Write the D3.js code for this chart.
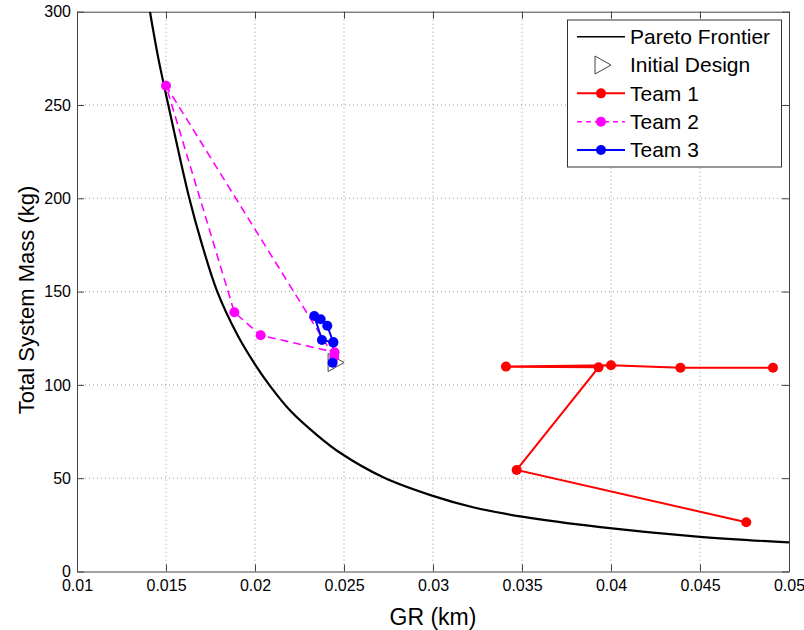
<!DOCTYPE html>
<html>
<head>
<meta charset="utf-8">
<script src="https://cdn.jsdelivr.net/npm/d3@7"></script>
<style>
  body { margin: 0; background: #fff; }
  svg { display: block; font-family: "Liberation Sans", Arial, Helvetica, sans-serif; }
</style>
</head>
<body>
<div id="chart"></div>
<script>
// Pareto frontier
const paretoGR = [0.0141, 0.01457, 0.01513, 0.01631, 0.0170, 0.01788, 0.0190, 0.0200, 0.02084, 0.0220, 0.0235, 0.0248, 0.0272, 0.0299, 0.0323, 0.0350, 0.0394, 0.0450, 0.0500];
const paretoMass = [300, 275, 250, 200, 176, 150, 127, 111, 99.5, 86, 73, 63.5, 50.5, 40.8, 34.3, 29.4, 23.8, 18.6, 15.6];

// Initial design point
const initialGR = [0.0245];
const initialMass = [112];

// Team paths
const team1GR = [0.0491, 0.0439, 0.0400, 0.0341, 0.0393, 0.0347, 0.0476];
const team1Mass = [109.2, 109.2, 110.5, 109.8, 109.4, 54.4, 26.4];

const team2GR = [0.02445, 0.0150, 0.01884, 0.02032, 0.02447];
const team2Mass = [115, 260.3, 138.9, 126.6, 117.5];

const team3GR = [0.02436, 0.0244, 0.02406, 0.02369, 0.02333, 0.02376, 0.0244];
const team3Mass = [111.9, 122.8, 131.7, 135.2, 136.9, 124.1, 122.8];

// Axis ticks
const xTicks = [0.01, 0.015, 0.02, 0.025, 0.03, 0.035, 0.04, 0.045, 0.05];
const yTicks = [0, 50, 100, 150, 200, 250, 300];

const legendNames = ["Pareto Frontier", "Initial Design", "Team 1", "Team 2", "Team 3"];

const width = 804, height = 630;
const plotLeft = 77, plotRight = 789, plotTop = 11.7, plotBottom = 571.5;

const svg = d3.select("#chart")
    .append("svg")
    .attr("width", width)
    .attr("height", height);

const x = d3.scaleLinear().domain([0.01, 0.05]).range([plotLeft, plotRight]);
const y = d3.scaleLinear().domain([0, 300]).range([plotBottom, plotTop]);

svg.append("defs").append("clipPath")
    .attr("id", "plot-clip")
    .append("rect")
    .attr("x", plotLeft).attr("y", plotTop)
    .attr("width", plotRight - plotLeft).attr("height", plotBottom - plotTop);

// Dotted grid
const grid = svg.append("g")
    .attr("stroke", "#9a9a9a")
    .attr("stroke-width", 1)
    .attr("stroke-dasharray", "1,3");

grid.selectAll("line.vx")
    .data(xTicks.slice(1, -1))
    .join("line")
    .attr("class", "vx")
    .attr("x1", d => x(d)).attr("x2", d => x(d))
    .attr("y1", plotTop).attr("y2", plotBottom);

grid.selectAll("line.hy")
    .data(yTicks.slice(1, -1))
    .join("line")
    .attr("class", "hy")
    .attr("x1", plotLeft).attr("x2", plotRight)
    .attr("y1", d => y(d)).attr("y2", d => y(d));

// Axes (ticks point inward, MATLAB style)
function styleAxis(g) {
    g.select(".domain").attr("stroke", "#444");
    g.selectAll(".tick line").attr("stroke", "#444");
    g.selectAll(".tick text").attr("fill", "#000").style("font-size", "16px");
}

svg.append("g")
    .attr("transform", `translate(0,${plotBottom})`)
    .call(d3.axisBottom(x).tickValues(xTicks).tickFormat(d => String(d))
        .tickSizeInner(-7).tickSizeOuter(0).tickPadding(8))
    .call(styleAxis);

svg.append("g")
    .attr("transform", `translate(0,${plotTop})`)
    .call(d3.axisTop(x).tickValues(xTicks).tickFormat("")
        .tickSizeInner(-7).tickSizeOuter(0))
    .call(styleAxis);

svg.append("g")
    .attr("transform", `translate(${plotLeft},0)`)
    .call(d3.axisLeft(y).tickValues(yTicks).tickFormat(d => String(d))
        .tickSizeInner(-7).tickSizeOuter(0).tickPadding(6))
    .call(styleAxis);

svg.append("g")
    .attr("transform", `translate(${plotRight},0)`)
    .call(d3.axisRight(y).tickValues(yTicks).tickFormat("")
        .tickSizeInner(-7).tickSizeOuter(0))
    .call(styleAxis);

// Axis titles
svg.append("text")
    .attr("x", (plotLeft + plotRight) / 2)
    .attr("y", 625)
    .attr("text-anchor", "middle")
    .style("font-size", "23px")
    .text("GR (km)");

svg.append("text")
    .attr("transform", `translate(34,300) rotate(-90)`)
    .attr("text-anchor", "middle")
    .style("font-size", "22px")
    .text("Total System Mass (kg)");

const plot = svg.append("g").attr("clip-path", "url(#plot-clip)");

const line = d3.line()
    .x(d => x(d[0]))
    .y(d => y(d[1]));

// Pareto frontier curve
const paretoData = paretoGR.map((g, i) => [g, paretoMass[i]]);
plot.append("path")
    .datum(paretoData)
    .attr("fill", "none")
    .attr("stroke", "#000")
    .attr("stroke-width", 2.2)
    .attr("d", line.curve(d3.curveCatmullRom.alpha(0.5)));

line.curve(d3.curveLinear);

const triangle = "M-7,-9L9,0L-7,9Z";

// Teams
const teams = [
    { gr: team1GR, mass: team1Mass, color: "#ff0000", dash: null },
    { gr: team2GR, mass: team2Mass, color: "#ff00ff", dash: "8,5" },
    { gr: team3GR, mass: team3Mass, color: "#0000ff", dash: null }
];

teams.forEach(t => {
    const pts = t.gr.map((g, i) => [g, t.mass[i]]);
    plot.append("path")
        .datum(pts)
        .attr("fill", "none")
        .attr("stroke", t.color)
        .attr("stroke-width", t.dash ? 1.6 : 2)
        .attr("stroke-dasharray", t.dash)
        .attr("d", line);
});

// Initial design marker
plot.selectAll("path.initial")
    .data(initialGR.map((g, i) => [g, initialMass[i]]))
    .join("path")
    .attr("class", "initial")
    .attr("d", triangle)
    .attr("transform", d => `translate(${x(d[0])},${y(d[1])})`)
    .attr("fill", "none")
    .attr("stroke", "#444")
    .attr("stroke-width", 1);

teams.forEach(t => {
    const pts = t.gr.map((g, i) => [g, t.mass[i]]);
    plot.append("g")
        .selectAll("circle")
        .data(pts)
        .join("circle")
        .attr("cx", d => x(d[0]))
        .attr("cy", d => y(d[1]))
        .attr("r", 5)
        .attr("fill", t.color);
});

// Legend
const legend = svg.append("g");
legend.append("rect")
    .attr("x", 567.5).attr("y", 20)
    .attr("width", 214).attr("height", 147)
    .attr("fill", "#fff")
    .attr("stroke", "#333")
    .attr("stroke-width", 1);

const rowY = d3.scalePoint().domain(legendNames).range([36.7, 150]);
const sampleX0 = 577, sampleX1 = 625, markX = 601;

legendNames.forEach((name, i) => {
    const ly = rowY(name);
    if (i === 0) {
        legend.append("line")
            .attr("x1", sampleX0).attr("x2", sampleX1)
            .attr("y1", ly).attr("y2", ly)
            .attr("stroke", "#000").attr("stroke-width", 1.5);
    } else if (i === 1) {
        legend.append("path")
            .attr("d", triangle)
            .attr("transform", `translate(${markX + 1},${ly})`)
            .attr("fill", "none")
            .attr("stroke", "#444");
    } else {
        const t = teams[i - 2];
        legend.append("line")
            .attr("x1", sampleX0).attr("x2", sampleX1)
            .attr("y1", ly).attr("y2", ly)
            .attr("stroke", t.color)
            .attr("stroke-width", t.dash ? 1.6 : 2)
            .attr("stroke-dasharray", t.dash ? "5,4" : null);
        legend.append("circle")
            .attr("cx", markX).attr("cy", ly).attr("r", 5)
            .attr("fill", t.color);
    }
    legend.append("text")
        .attr("x", 630)
        .attr("y", ly)
        .attr("dy", "0.35em")
        .style("font-size", "21px")
        .text(name);
});
</script>
</body>
</html>
